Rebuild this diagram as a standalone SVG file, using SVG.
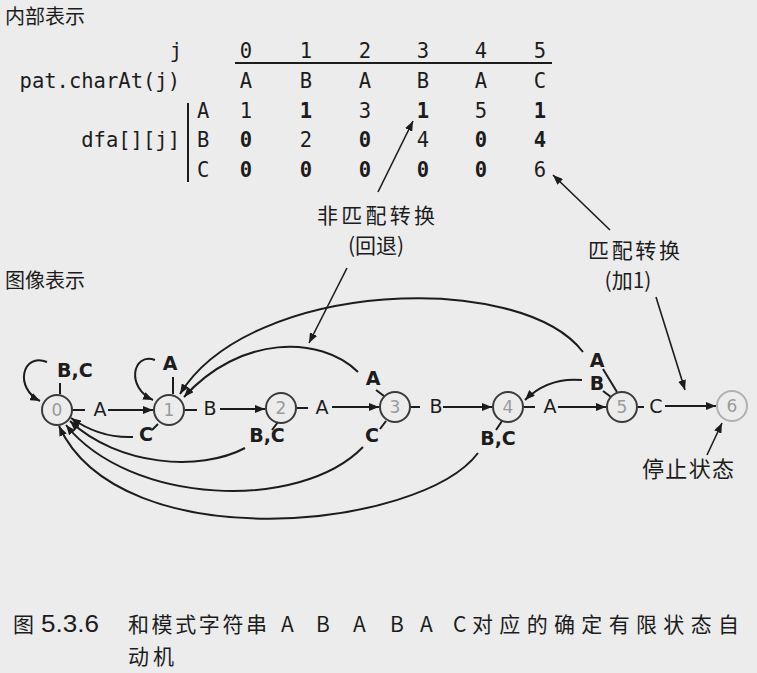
<svg xmlns="http://www.w3.org/2000/svg" width="757" height="673" viewBox="0 0 757 673">
<style>
.cjk{font-family:"Noto Sans CJK SC","Noto Sans",sans-serif;fill:#1c1c1c}
.mono{font-family:"DejaVu Sans Mono","Liberation Mono",monospace;font-size:20.5px;fill:#1c1c1c}
.b{font-weight:bold}
.lab{font-family:"DejaVu Sans","Liberation Sans",sans-serif;font-size:19px;fill:#1c1c1c}
.lb{font-family:"DejaVu Sans","Liberation Sans",sans-serif;font-size:19px;font-weight:bold;fill:#1c1c1c}
.num{font-family:"DejaVu Sans","Liberation Sans",sans-serif;font-size:17px;fill:#9a9a9a;text-anchor:middle}
.edge{fill:none;stroke:#1c1c1c;stroke-width:2}
.tick{fill:none;stroke:#1c1c1c;stroke-width:2}
.ptr{fill:none;stroke:#1c1c1c;stroke-width:1.6}
.node{fill:none;stroke:#3a3a3a;stroke-width:2}
</style>
<defs>
<marker id="ah" viewBox="0 0 10 8" refX="10" refY="4" markerWidth="10" markerHeight="8" markerUnits="userSpaceOnUse" orient="auto">
<path d="M0,0 L10,4 L0,8 z" fill="#1c1c1c"/>
</marker>
</defs>
<rect width="757" height="673" fill="#ececec"/>

<g id="section-titles">
<text class="cjk" x="5" y="24" font-size="20">内部表示</text>
<text class="cjk" x="5" y="288" font-size="20">图像表示</text>
</g>

<g id="table">
<text class="mono" x="182" y="58" text-anchor="end">j</text>
<text class="mono" x="180" y="88" text-anchor="end">pat.charAt(j)</text>
<text class="mono" x="180" y="147" text-anchor="end">dfa[][j]</text>
<line x1="235" y1="63" x2="552" y2="63" stroke="#1c1c1c" stroke-width="2"/>
<line x1="188" y1="103" x2="188" y2="182" stroke="#1c1c1c" stroke-width="2"/>
<g class="mono" text-anchor="middle">
<text x="246" y="58">0</text><text x="306" y="58">1</text><text x="365" y="58">2</text><text x="423" y="58">3</text><text x="481" y="58">4</text><text x="540" y="58">5</text>
<text x="246" y="88">A</text><text x="306" y="88">B</text><text x="365" y="88">A</text><text x="423" y="88">B</text><text x="481" y="88">A</text><text x="540" y="88">C</text>
</g>
<g class="mono">
<text x="197" y="118">A</text><text x="197" y="147">B</text><text x="197" y="177">C</text>
</g>
<g class="mono" text-anchor="middle">
<text x="246" y="118">1</text><text x="306" y="118" class="b">1</text><text x="365" y="118">3</text><text x="423" y="118" class="b">1</text><text x="481" y="118">5</text><text x="540" y="118" class="b">1</text>
<text x="246" y="147" class="b">0</text><text x="306" y="147">2</text><text x="365" y="147" class="b">0</text><text x="423" y="147">4</text><text x="481" y="147" class="b">0</text><text x="540" y="147" class="b">4</text>
<text x="246" y="177" class="b">0</text><text x="306" y="177" class="b">0</text><text x="365" y="177" class="b">0</text><text x="423" y="177" class="b">0</text><text x="481" y="177" class="b">0</text><text x="540" y="177">6</text>
</g>
</g>

<g id="annotations">
<text class="cjk" x="376" y="223" font-size="21" text-anchor="middle" textLength="118">非匹配转换</text>
<text class="cjk" x="376" y="253" font-size="21" text-anchor="middle">(回退)</text>
<text class="cjk" x="634" y="258" font-size="21" text-anchor="middle" textLength="92">匹配转换</text>
<text class="cjk" x="628" y="288" font-size="21" text-anchor="middle">(加1)</text>
<text class="cjk" x="688" y="477" font-size="22" text-anchor="middle" textLength="92">停止状态</text>
</g>

<g id="connectors">
<line class="ptr" x1="378" y1="192" x2="413" y2="121" marker-end="url(#ah)"/>
<line class="ptr" x1="610" y1="230" x2="553" y2="175" marker-end="url(#ah)"/>
<line class="ptr" x1="347" y1="268" x2="309" y2="343" marker-end="url(#ah)"/>
<line class="ptr" x1="656" y1="297" x2="685" y2="390" marker-end="url(#ah)"/>
<line class="ptr" x1="707" y1="455" x2="722" y2="423" marker-end="url(#ah)"/>

<!-- forward transitions -->
<line class="tick" x1="72" y1="410" x2="85" y2="410"/>
<line class="edge" x1="108" y1="410" x2="153" y2="410" marker-end="url(#ah)"/>
<line class="tick" x1="185" y1="410" x2="197" y2="410"/>
<line class="edge" x1="220" y1="409" x2="265" y2="409" marker-end="url(#ah)"/>
<line class="tick" x1="297" y1="408" x2="308" y2="408"/>
<line class="edge" x1="332" y1="407" x2="379" y2="407" marker-end="url(#ah)"/>
<line class="tick" x1="411" y1="407" x2="420" y2="407"/>
<line class="edge" x1="443" y1="407" x2="492" y2="407" marker-end="url(#ah)"/>
<line class="tick" x1="524" y1="407" x2="535" y2="407"/>
<line class="edge" x1="558" y1="407" x2="606" y2="407" marker-end="url(#ah)"/>
<line class="tick" x1="638" y1="407" x2="644" y2="407"/>
<line class="edge" x1="665" y1="406" x2="716" y2="406" marker-end="url(#ah)"/>

<!-- self loops -->
<line class="tick" x1="60" y1="383" x2="60" y2="394"/>
<path class="edge" d="M47,362 C22,352 14,388 40,401" marker-end="url(#ah)"/>
<line class="tick" x1="173" y1="377" x2="173" y2="394"/>
<path class="edge" d="M155,360 C132,352 126,388 153,400" marker-end="url(#ah)"/>

<!-- back transitions below -->
<line class="tick" x1="158" y1="424" x2="152" y2="430"/>
<path class="edge" d="M133,437 C110,438 88,430 71,418" marker-end="url(#ah)"/>
<line class="tick" x1="278" y1="422" x2="272" y2="430"/>
<path class="edge" d="M245,448 C200,472 118,466 70,421" marker-end="url(#ah)"/>
<line class="tick" x1="386" y1="421" x2="380" y2="429"/>
<path class="edge" d="M363,447 C300,512 130,505 66,425" marker-end="url(#ah)"/>
<line class="tick" x1="502" y1="421" x2="496" y2="430"/>
<path class="edge" d="M478,453 C420,530 120,560 59,426" marker-end="url(#ah)"/>

<!-- back transitions above -->
<line class="tick" x1="376" y1="390" x2="384" y2="396"/>
<path class="edge" d="M358,372 C320,335 240,335 184,397" marker-end="url(#ah)"/>
<line class="tick" x1="603" y1="369" x2="617" y2="392"/>
<path class="edge" d="M583,352 C520,270 250,280 180,394" marker-end="url(#ah)"/>
<line class="tick" x1="603" y1="391" x2="611" y2="397"/>
<path class="edge" d="M582,380 C560,378 540,385 525,400" marker-end="url(#ah)"/>
</g>

<g id="edge-labels">
<text class="lab" x="100" y="416" text-anchor="middle">A</text>
<text class="lab" x="210" y="415" text-anchor="middle">B</text>
<text class="lab" x="322" y="414" text-anchor="middle">A</text>
<text class="lab" x="436" y="413" text-anchor="middle">B</text>
<text class="lab" x="550" y="413" text-anchor="middle">A</text>
<text class="lab" x="656" y="413" text-anchor="middle">C</text>
<text class="lb" x="57" y="377">B,C</text>
<text class="lb" x="170" y="370" text-anchor="middle">A</text>
<text class="lb" x="146" y="441" text-anchor="middle">C</text>
<text class="lb" x="267" y="442" text-anchor="middle">B,C</text>
<text class="lb" x="372" y="442" text-anchor="middle">C</text>
<text class="lb" x="373" y="385" text-anchor="middle">A</text>
<text class="lb" x="498" y="445" text-anchor="middle">B,C</text>
<text class="lb" x="597" y="367" text-anchor="middle">A</text>
<text class="lb" x="597" y="390" text-anchor="middle">B</text>
</g>

<g id="node0"><circle class="node" cx="57" cy="410" r="15"/><text class="num" x="57" y="416">0</text></g>
<g id="node1"><circle class="node" cx="169" cy="410" r="15"/><text class="num" x="169" y="416">1</text></g>
<g id="node2"><circle class="node" cx="281" cy="408" r="15"/><text class="num" x="281" y="414">2</text></g>
<g id="node3"><circle class="node" cx="395" cy="407" r="15"/><text class="num" x="395" y="413">3</text></g>
<g id="node4"><circle class="node" cx="508" cy="407" r="15"/><text class="num" x="508" y="413">4</text></g>
<g id="node5"><circle class="node" cx="622" cy="407" r="15"/><text class="num" x="622" y="413">5</text></g>
<g id="node6"><circle cx="732" cy="406" r="15" fill="none" stroke="#b0b0b0" stroke-width="2"/><text class="num" x="732" y="412" fill="#b0b0b0">6</text></g>

<g id="caption">
<text class="cjk" x="13" y="632" font-size="21">图</text>
<text x="41" y="632" font-size="23" font-family="Liberation Sans, sans-serif" fill="#1c1c1c" textLength="58" lengthAdjust="spacingAndGlyphs">5.3.6</text>
<text class="cjk" x="128" y="632" font-size="21" textLength="139">和模式字符串</text>
<text class="cjk" x="281" y="632" font-size="21">A</text>
<text class="cjk" x="316" y="632" font-size="21">B</text>
<text class="cjk" x="353" y="632" font-size="21">A</text>
<text class="cjk" x="390" y="632" font-size="21">B</text>
<text class="cjk" x="420" y="632" font-size="21">A</text>
<text class="cjk" x="453" y="632" font-size="21">C</text>
<text class="cjk" x="472" y="632" font-size="21" textLength="267">对应的确定有限状态自</text>
<text class="cjk" x="128" y="664" font-size="21" textLength="46">动机</text>
</g>
</svg>
